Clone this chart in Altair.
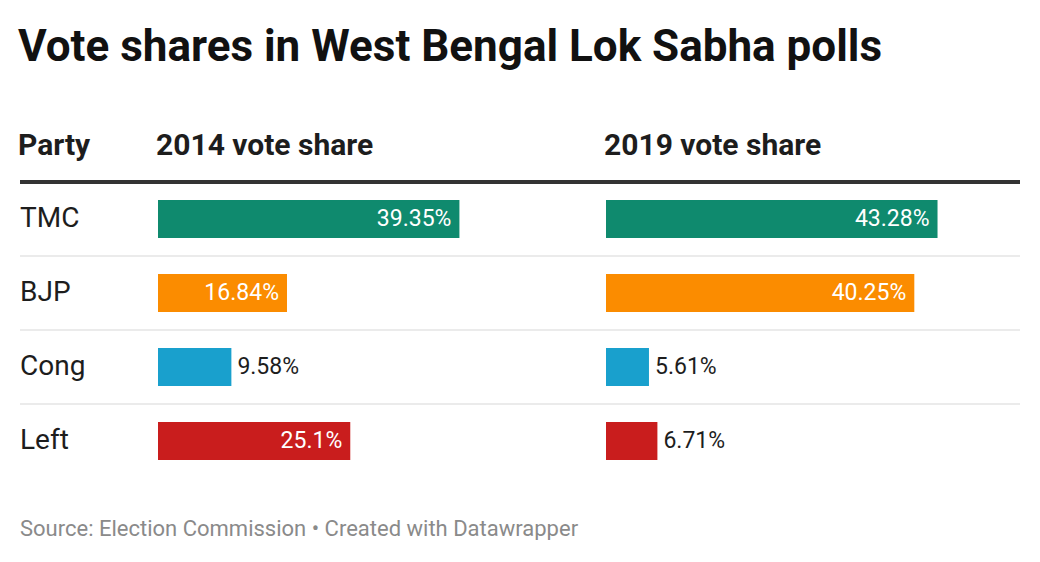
import altair as alt
import pandas as pd

parties = ["TMC", "BJP", "Cong", "Left"]
share_2014 = [39.35, 16.84, 9.58, 25.1]
share_2019 = [43.28, 40.25, 5.61, 6.71]
labels_2014 = ["39.35%", "16.84%", "9.58%", "25.1%"]
labels_2019 = ["43.28%", "40.25%", "5.61%", "6.71%"]
party_colors = ["#0f8a6e", "#fb8c00", "#19a0cd", "#c91d1d"]

TITLE = "Vote shares in West Bengal Lok Sabha polls"
SOURCE = "Source: Election Commission • Created with Datawrapper"
FONT = "Roboto"

PX_PER_PCT = 7.66
ROW_H = 296
W_PARTY, W_2014, W_2019 = 138, 448, 414

df = pd.DataFrame({
    "party": parties,
    "s2014": share_2014,
    "s2019": share_2019,
    "l2014": labels_2014,
    "l2019": labels_2019,
    "color": party_colors,
})

yscale = alt.Scale(domain=parties, paddingInner=0, paddingOuter=0)
Y = alt.Y("party:N", scale=yscale, axis=None)


def rules(width):
    base = alt.Chart(df)
    thin = base.transform_filter(alt.datum.party != parties[0]).mark_rule(
        color="#e4e4e4", strokeWidth=1.5
    ).encode(y=alt.Y("party:N", scale=yscale, axis=None, bandPosition=0),
             x=alt.value(0), x2=alt.value(width))
    thick = base.transform_filter(alt.datum.party == parties[0]).mark_rule(
        color="#333333", strokeWidth=4
    ).encode(y=alt.Y("party:N", scale=yscale, axis=None, bandPosition=0),
             x=alt.value(0), x2=alt.value(width))
    return thin, thick


def header(text):
    return alt.TitleParams(text, anchor="start", font=FONT, fontSize=30,
                           fontWeight="bold", color="#1d1d1d", offset=-5,
                           baseline="alphabetic")


# Party column
thin_a, thick_a = rules(W_PARTY)
party_text = alt.Chart(df).mark_text(
    align="left", baseline="middle", font=FONT, fontSize=28, color="#1d1d1d"
).encode(y=Y, x=alt.value(0), text="party:N")
footer = alt.Chart(pd.DataFrame({"t": [SOURCE]})).mark_text(
    align="left", baseline="middle", font=FONT, fontSize=22, color="#8a8a8a"
).encode(x=alt.value(0), y=alt.value(ROW_H + 51), text="t:N")
panel_party = alt.layer(thin_a, thick_a, party_text, footer).properties(
    width=W_PARTY, height=ROW_H, title=header("Party"))


def bar_panel(col, lab, width, title):
    xs = alt.Scale(domain=[0, width / PX_PER_PCT], nice=False, zero=True)
    X = alt.X(f"{col}:Q", scale=xs, axis=None)
    thin, thick = rules(width)
    base = alt.Chart(df)
    bars = base.mark_bar(height=38).encode(
        x=X, y=Y, color=alt.Color("color:N", scale=None))
    inside = base.transform_filter(alt.datum[col] >= 12).mark_text(
        align="right", baseline="middle", dx=-8, font=FONT, fontSize=23,
        color="white").encode(x=X, y=Y, text=f"{lab}:N")
    outside = base.transform_filter(alt.datum[col] < 12).mark_text(
        align="left", baseline="middle", dx=6, font=FONT, fontSize=23,
        color="#1d1d1d").encode(x=X, y=Y, text=f"{lab}:N")
    return alt.layer(thin, thick, bars, inside, outside).properties(
        width=width, height=ROW_H, title=header(title))


panel_2014 = bar_panel("s2014", "l2014", W_2014, "2014 vote share")
panel_2019 = bar_panel("s2019", "l2019", W_2019, "2019 vote share")

chart = alt.hconcat(panel_party, panel_2014, panel_2019, spacing=0,
                    bounds="flush").properties(
    title=alt.TitleParams(TITLE, anchor="start", font=FONT, fontSize=44,
                          fontWeight="bold", color="#111111", offset=61),
    padding={"left": 10, "top": 18, "right": 0, "bottom": 0},
    background="white",
).configure_view(stroke=None).configure_concat(spacing=0)

chart.save("out.html", embed_options={"renderer": "svg", "actions": False})
